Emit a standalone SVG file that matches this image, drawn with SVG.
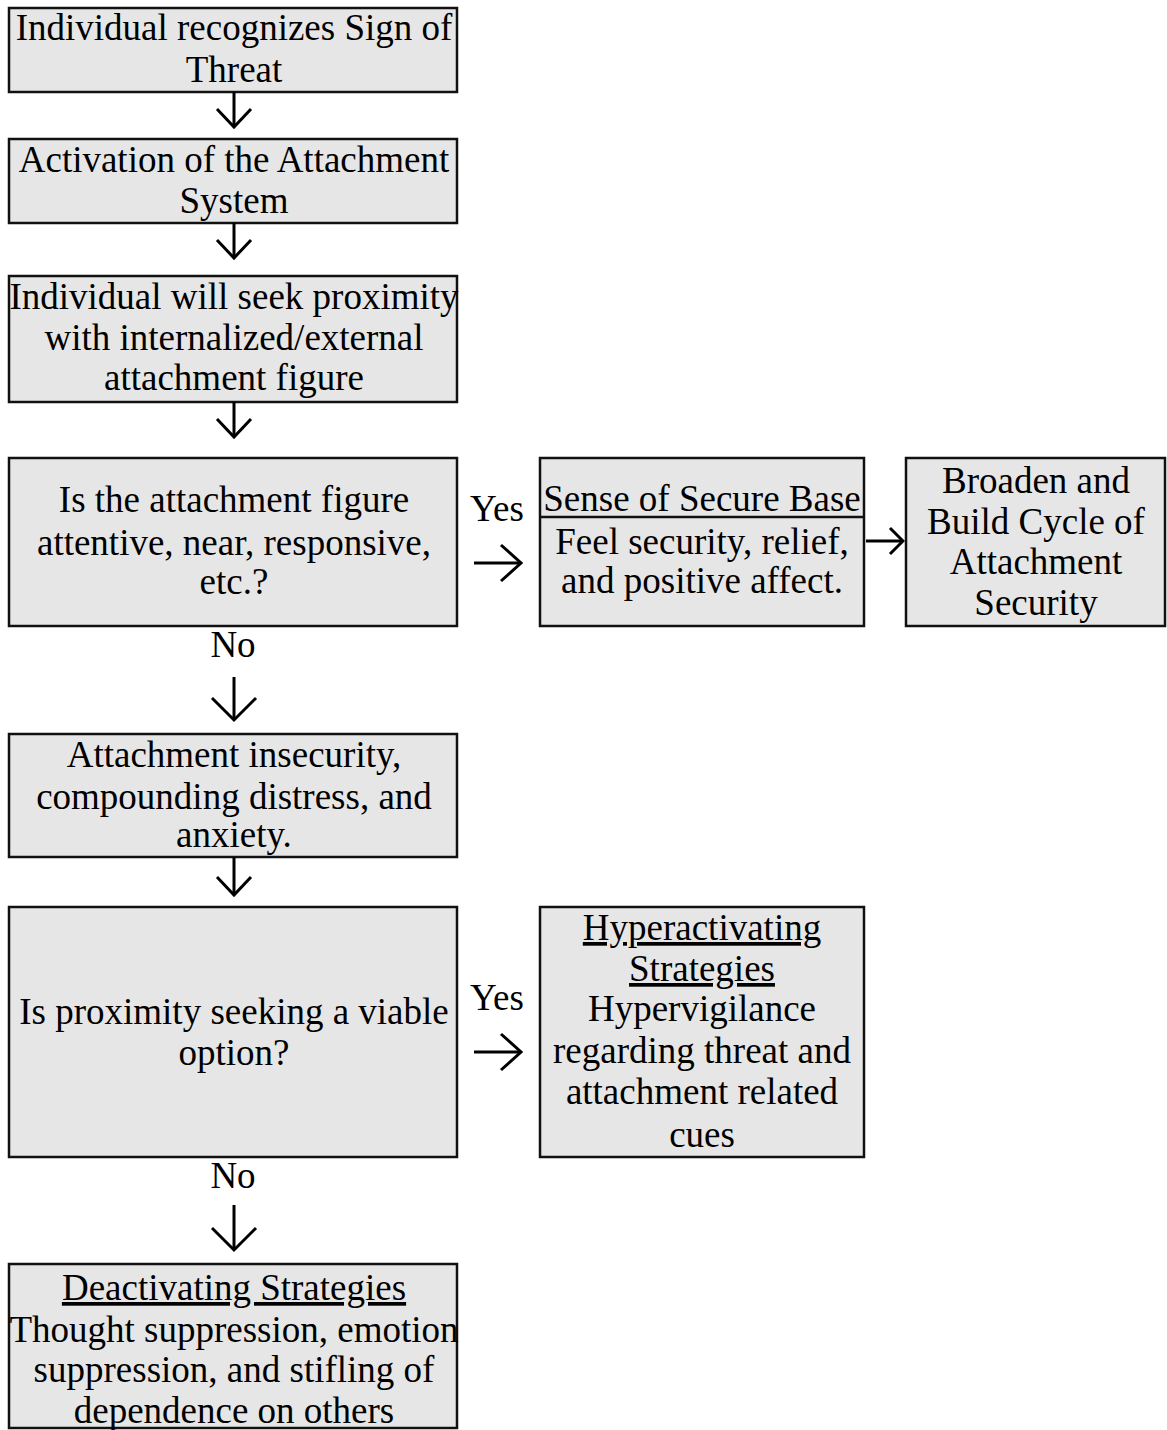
<svg xmlns="http://www.w3.org/2000/svg" width="1167" height="1430" viewBox="0 0 1167 1430">
<style>
.box{fill:#e6e6e6;stroke:#111;stroke-width:2.5}
text{font-family:"Liberation Serif","Times New Roman",serif;font-size:37px;fill:#000;text-anchor:middle}
.u{text-decoration:underline}
.con{stroke:#000;stroke-width:3;fill:none}
</style>
<defs>
<marker id="vS" viewBox="-3 -20 24 40" markerWidth="24" markerHeight="40" refX="18" refY="0" orient="auto" markerUnits="userSpaceOnUse"><path d="M0,-17 L18,0 L0,17" fill="none" stroke="#000" stroke-width="3"/></marker>
<marker id="vM" viewBox="-3 -21 26 42" markerWidth="26" markerHeight="42" refX="20" refY="0" orient="auto" markerUnits="userSpaceOnUse"><path d="M0,-18 L20,0 L0,18" fill="none" stroke="#000" stroke-width="3"/></marker>
<marker id="vL" viewBox="-3 -25 28 50" markerWidth="28" markerHeight="50" refX="22" refY="0" orient="auto" markerUnits="userSpaceOnUse"><path d="M0,-22 L22,0 L0,22" fill="none" stroke="#000" stroke-width="3"/></marker>
<marker id="vXS" viewBox="-3 -16 18 32" markerWidth="18" markerHeight="32" refX="13" refY="0" orient="auto" markerUnits="userSpaceOnUse"><path d="M0,-13 L13,0 L0,13" fill="none" stroke="#000" stroke-width="3"/></marker>
</defs>

<g id="n1"><rect class="box" x="9" y="8" width="448" height="84"/>
<text x="234" y="40">Individual recognizes Sign of</text><text x="234" y="82">Threat</text></g>

<g id="n2"><rect class="box" x="9" y="139" width="448" height="84"/>
<text x="234" y="172">Activation of the Attachment</text><text x="234" y="213">System</text></g>

<g id="n3"><rect class="box" x="9" y="276" width="448" height="126"/>
<text x="234" y="309">Individual will seek proximity</text><text x="234" y="350">with internalized/external</text><text x="234" y="390">attachment figure</text></g>

<g id="n4"><rect class="box" x="9" y="458" width="448" height="168"/>
<text x="234" y="512">Is the attachment figure</text><text x="234" y="555">attentive, near, responsive,</text><text x="234" y="594">etc.?</text></g>

<g id="n5"><rect class="box" x="540" y="458" width="324" height="168"/>
<line x1="540" y1="517" x2="864" y2="517" stroke="#111" stroke-width="2.5"/>
<text x="702" y="511">Sense of Secure Base</text>
<text x="702" y="554">Feel security, relief,</text><text x="702" y="593">and positive affect.</text></g>

<g id="n6"><rect class="box" x="906" y="458" width="259" height="168"/>
<text x="1036" y="493">Broaden and</text><text x="1036" y="534">Build Cycle of</text><text x="1036" y="574">Attachment</text><text x="1036" y="615">Security</text></g>

<g id="n7"><rect class="box" x="9" y="734" width="448" height="123"/>
<text x="234" y="767">Attachment insecurity,</text><text x="234" y="809">compounding distress, and</text><text x="234" y="847">anxiety.</text></g>

<g id="n8"><rect class="box" x="9" y="907" width="448" height="250"/>
<text x="234" y="1024">Is proximity seeking a viable</text><text x="234" y="1065">option?</text></g>

<g id="n9"><rect class="box" x="540" y="907" width="324" height="250"/>
<text class="u" x="702" y="940">Hyperactivating</text><text class="u" x="702" y="981">Strategies</text>
<text x="702" y="1021">Hypervigilance</text><text x="702" y="1063">regarding threat and</text><text x="702" y="1104">attachment related</text><text x="702" y="1147">cues</text></g>

<g id="n10"><rect class="box" x="9" y="1264" width="448" height="164"/>
<text class="u" x="234" y="1300">Deactivating Strategies</text>
<text x="234" y="1342">Thought suppression, emotion</text><text x="234" y="1382">suppression, and stifling of</text><text x="234" y="1423">dependence on others</text></g>

<g id="connectors">
<path class="con" d="M234,92 L234,127" marker-end="url(#vS)"/>
<path class="con" d="M234,223 L234,258" marker-end="url(#vS)"/>
<path class="con" d="M234,402 L234,437" marker-end="url(#vS)"/>
<path class="con" d="M234,677 L234,720" marker-end="url(#vL)"/>
<path class="con" d="M234,857 L234,895" marker-end="url(#vS)"/>
<path class="con" d="M234,1205 L234,1250" marker-end="url(#vL)"/>
<path class="con" d="M474,563 L521,563" marker-end="url(#vM)"/>
<path class="con" d="M866,541 L903,541" marker-end="url(#vXS)"/>
<path class="con" d="M474,1052 L521,1052" marker-end="url(#vM)"/>
<text x="497" y="521">Yes</text>
<text x="233" y="657">No</text>
<text x="497" y="1010">Yes</text>
<text x="233" y="1188">No</text>
</g>
</svg>
